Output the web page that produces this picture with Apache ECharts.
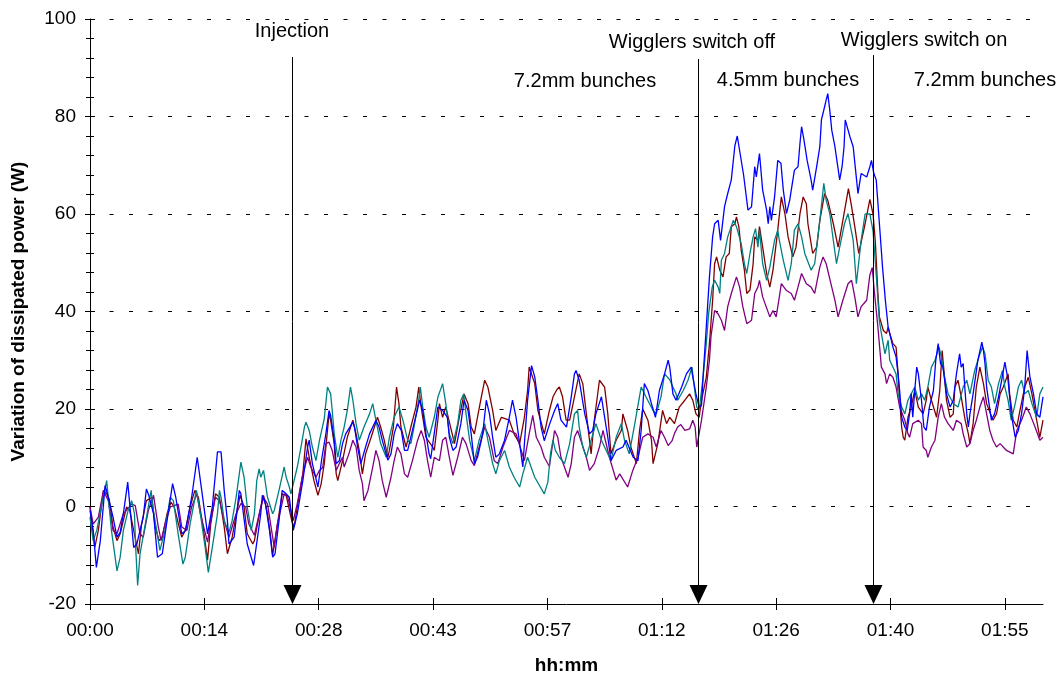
<!DOCTYPE html>
<html>
<head>
<meta charset="utf-8">
<script src="https://cdn.jsdelivr.net/npm/echarts@6/dist/echarts.min.js"></script>
<style>
  html, body { margin: 0; padding: 0; background: #fff; }
  #chart { width: 1061px; height: 682px; }
</style>
</head>
<body>
<div id="chart"></div>
<script>
// time in minutes, value in W
const blue = [[0,-0.8],[0.4,-4.9],[0.8,-12.5],[1.3,-7],[1.9,4.3],[2.3,1.9],[2.9,-2.2],[3.4,-6.3],[3.8,-5.3],[4.2,-1.5],[4.75,5],[5.0,4.7],[5.5,-8.4],[5.9,-7.7],[6.3,-4.9],[6.7,-2.2],[7.1,3.6],[7.4,2.3],[8.0,-1.5],[8.5,-10.4],[9.1,-9.7],[9.7,-2.9],[10.4,4.7],[10.8,1.9],[11.55,-5.6],[12.05,-4.9],[12.8,1.9],[13.5,10.1],[13.9,5.3],[14.3,0.5],[14.8,-5.6],[15.4,-0.1],[16.05,11.2],[16.5,11.2],[16.9,3.3],[17.3,-2.9],[17.5,-7.7],[18.15,-6.3],[18.8,3.3],[19.0,2.6],[19.8,-7.7],[20.6,-12.1],[21.1,-6.3],[21.5,-1.5],[21.7,2.3],[22.1,0.5],[22.6,-4.9],[23.0,-10.4],[23.3,-9.7],[23.8,-2.9],[24.2,3.3],[24.7,2.6],[25.1,1.9],[25.5,-3.6],[25.6,-4.9],[26.1,-1.5],[26.8,5.3],[27.4,12.2],[27.6,13.6],[28.0,8.8],[28.7,4],[29.2,10],[29.7,14.9],[30.1,19.7],[30.3,18.7],[30.75,13.6],[31.0,8.8],[31.4,9.4],[31.8,12.9],[32.2,14.9],[33.1,17.3],[33.3,16.3],[33.7,12.2],[34.1,8.8],[34.7,12.2],[35.2,14.9],[36.0,17.7],[36.4,16.3],[36.8,13.6],[37.5,9.5],[37.9,10.8],[38.3,14.9],[38.7,17],[39.2,15.6],[39.6,11.5],[40.0,11.5],[40.6,15.6],[41.25,20],[41.5,21.8],[41.9,19.7],[42.3,14.9],[42.7,10.8],[42.9,9.8],[43.4,15.6],[43.8,20.4],[44.4,19.7],[45.0,18.3],[45.25,14.2],[45.7,11.5],[46.1,12.2],[46.7,17],[47.1,21.8],[47.6,19.7],[48.0,14.9],[48.4,8.8],[48.8,10.1],[49.45,14.9],[49.9,21.8],[50.3,19],[50.7,14.2],[51.1,10.1],[51.55,10.8],[52.2,13.6],[52.8,18.3],[53.2,21.8],[53.65,18.3],[54.1,12.9],[54.5,8.1],[54.7,12.9],[55.1,21.8],[55.6,28.9],[56.0,26.6],[56.4,21.8],[56.8,16.3],[57.2,13.5],[57.85,16.8],[58.5,19.7],[58.9,21.1],[59.3,17.7],[60.0,16.3],[60.6,22.5],[61.0,27.2],[61.2,27.9],[61.6,25.9],[62.3,19],[62.9,14.9],[63.3,15.6],[63.7,19],[64.4,22.5],[64.6,20.4],[65.2,14.2],[65.6,9.4],[66.25,11.5],[67.1,12.2],[67.5,13.6],[68.4,10.1],[69.0,9.4],[69.4,15.6],[69.8,25.2],[70.25,23.8],[70.7,21.1],[71.2,18.3],[71.7,23.8],[72.35,27.2],[72.8,30],[73.0,28.6],[73.4,23.1],[73.8,21.8],[74.5,24.5],[75.1,27.2],[75.7,28.6],[75.9,26.6],[76.3,23.1],[76.7,20.4],[77.0,20.7],[77.2,26.6],[77.6,36.8],[78.0,47.1],[78.4,55.3],[78.65,58],[79.1,58.7],[79.4,54.6],[79.9,61.5],[80.3,64.2],[80.75,67],[81.2,74],[81.5,76],[81.9,72],[82.3,68],[82.85,60.8],[83.3,61.5],[83.7,69.7],[83.9,67.6],[84.3,72.4],[84.7,64.9],[85.2,60.8],[85.4,58],[85.6,61.5],[85.8,58.7],[86.2,63.5],[86.6,71],[87.0,70.4],[87.3,64.9],[87.7,60.1],[88.1,62.8],[88.7,69],[89.15,69.7],[89.4,74.5],[89.6,77.9],[89.9,75.2],[90.3,71],[90.8,67],[91.0,64.9],[91.5,69.7],[91.9,73.8],[92.1,79.3],[92.5,82],[92.7,83.4],[92.9,84.7],[93.15,81.3],[93.4,77.2],[93.8,73.8],[94.1,70.4],[94.4,67],[94.7,69.7],[94.95,73.8],[95.1,79.3],[95.7,75.8],[96.1,73.8],[96.4,69],[96.7,64.2],[97.1,68.3],[97.8,67.6],[98.2,69.7],[98.4,71],[98.7,68.3],[99.0,67],[99.4,58],[99.8,49],[100.15,42.3],[100.5,36.8],[100.7,35.5],[101.1,32.7],[101.5,30.7],[101.75,27.2],[101.95,23.8],[102.2,18.3],[102.6,16.3],[102.9,15.6],[103.2,19],[103.4,23.1],[103.6,18.3],[103.85,23.8],[104.1,28.6],[104.3,27.2],[104.7,21.8],[105.0,16.3],[105.3,15.6],[105.7,20.4],[106.2,23.8],[106.5,30],[106.8,33.4],[107.1,29.3],[107.4,28.6],[107.85,23.1],[108.3,20.4],[108.7,21.8],[109.1,27.2],[109.5,31.3],[109.7,28.6],[109.95,29.3],[110.15,24.5],[110.4,19],[110.6,16.3],[110.8,19],[111.2,23.1],[111.8,30],[112.3,33.7],[112.5,32],[112.7,29.3],[112.9,24.5],[113.5,17.7],[113.9,19],[114.4,22.5],[114.8,25.9],[115.2,29.6],[115.6,25.9],[116.0,19],[116.5,14.2],[116.9,15.6],[117.3,19],[117.7,24.5],[118.0,32],[118.35,26.6],[118.8,23.1],[119.2,19],[119.6,18.3],[120.0,22.5]];

const darkRed = [[0,-0.1],[0.6,-8.4],[1.05,-4.9],[1.7,3.3],[2.1,2.6],[2.4,1.6],[2.9,-4.2],[3.4,-7],[3.8,-5.6],[4.6,-0.1],[5.0,-0.8],[5.5,-4.9],[6.1,-9.7],[6.5,-3.6],[7.1,1.2],[7.8,1.9],[8.2,-4.2],[8.7,-7],[9.1,-6.3],[9.7,-1.5],[10.2,0.9],[10.6,-0.1],[11.55,-6.3],[12.0,-4.9],[12.6,-0.1],[13.2,3.3],[13.65,1.9],[14.3,-4.9],[14.8,-11],[15.2,-3.6],[15.8,2.6],[16.3,1.9],[16.9,-4.2],[17.3,-9.7],[17.9,-6.3],[18.6,-0.1],[18.9,2.3],[19.4,-0.1],[19.8,-5.6],[20.5,-7.7],[20.7,-7],[21.5,-0.1],[21.85,2.3],[22.35,-1.5],[22.7,-5.6],[23.0,-10],[23.6,-3.6],[24.2,2.6],[24.7,2.3],[25.4,-2.9],[25.7,-4.2],[26.1,-0.1],[26.8,6.7],[27.2,13.9],[27.6,10.1],[28.2,5.3],[28.7,2.3],[29.1,4.6],[29.5,8.8],[30.1,19],[30.3,17.7],[30.75,12.9],[31.0,6.7],[31.2,5.3],[31.8,9.4],[32.4,14.2],[33.1,17.7],[33.5,14.9],[33.9,11.5],[34.3,6.7],[34.7,10.8],[35.4,14.2],[36.2,18.3],[36.6,16.3],[37.05,13.6],[37.5,10.1],[37.7,11.5],[38.2,16.3],[38.6,24.5],[38.9,21.1],[39.15,16.3],[39.8,12.2],[40.4,16.3],[41.05,20.4],[41.4,24.5],[41.7,20.4],[42.3,14.2],[43.15,12.2],[43.35,11.5],[43.8,17.7],[44.0,21.1],[44.4,18.3],[44.8,20.4],[45.5,15.6],[45.9,12.9],[46.5,18.3],[47.1,23.1],[47.6,21.1],[48.0,16.3],[48.4,14.9],[49.2,21.8],[49.7,25.9],[50.1,24.5],[50.7,19.7],[51.1,15.6],[51.8,18.3],[52.8,17.7],[53.4,14.9],[54.1,12.9],[54.7,18.3],[55.1,23.8],[55.3,28.6],[56.0,25.2],[56.4,19.7],[57.2,14.9],[57.85,19.7],[58.3,22.5],[58.8,24],[59.1,24.5],[59.5,22.5],[59.95,17.7],[60.4,17.7],[61.0,22.5],[61.6,27.2],[62.05,25.2],[62.5,19],[63.1,10.8],[63.5,17.7],[64.15,25.9],[64.8,24.5],[65.2,19],[65.6,10.8],[66.25,13.6],[66.9,15.6],[67.1,19],[67.7,15.6],[68.1,12.2],[68.8,8.8],[69.2,15.6],[69.6,20],[70.25,17.7],[70.7,13.6],[70.9,8.8],[71.5,12.9],[72.1,19.7],[72.6,17],[73.0,18.3],[73.6,17],[74.2,20.4],[74.9,21.8],[75.5,23.1],[75.9,21.8],[76.3,19],[76.7,18.3],[77.0,21.8],[77.6,26.5],[78.0,33.4],[78.4,42.3],[78.65,49.8],[78.9,51.2],[79.3,48.5],[79.7,47.1],[80.1,51.2],[80.5,51.9],[80.75,57.4],[81.2,58],[81.4,59.4],[81.7,57.4],[82.0,52.6],[82.4,48.5],[82.7,43.7],[83.1,44.4],[83.5,49.8],[83.7,55.3],[84.1,54.6],[84.3,57.4],[84.7,53.2],[85.2,47.8],[85.6,45],[86.0,48.5],[86.6,56.7],[87.05,63.5],[87.5,60.1],[87.9,55.3],[88.5,51.2],[88.9,53.2],[89.4,60.1],[89.8,63.5],[90.2,62.1],[90.4,58],[91.0,51.9],[91.5,53.2],[91.9,58.7],[92.5,64.2],[92.9,62.8],[93.6,58],[94.2,53.2],[94.8,58.7],[95.5,65.2],[95.9,61.5],[96.3,57.4],[96.8,51.9],[97.6,58],[98.2,63],[98.6,60],[98.9,54],[99.2,44],[99.4,38.9],[99.9,36.1],[100.3,35.5],[100.5,36.8],[100.7,35.5],[101.1,33.4],[101.5,32.7],[101.75,27.2],[101.95,21.8],[102.2,16.3],[102.4,14.2],[102.6,13.6],[103.0,18.3],[103.4,20.4],[103.85,23.8],[104.3,20.4],[104.9,19],[105.3,21.8],[105.5,24.5],[105.95,21.8],[106.6,18.3],[107.0,23.8],[107.3,32],[107.6,26.5],[107.85,21.8],[108.3,18.3],[108.7,19],[108.9,24.5],[109.3,25.9],[109.7,22.5],[110.2,17.7],[110.6,14.9],[110.8,12.9],[111.2,17],[111.6,24.5],[112.05,28.6],[112.5,25.2],[112.9,21.1],[113.7,17.7],[114.15,19],[114.6,23.1],[115.0,24.5],[115.6,27.2],[115.8,23.1],[116.25,17.7],[116.7,16.3],[117.1,19.7],[117.7,24.5],[118.15,26.5],[118.6,23.1],[119.2,17.7],[119.6,14.2],[120.0,17.7]];

const teal = [[0,-2.2],[0.4,-7],[0.85,-4.9],[1.5,0.5],[2.1,5.3],[2.7,-4.9],[3.4,-13.2],[3.8,-10.4],[4.2,-4.9],[4.8,-0.8],[5.25,1.2],[5.6,-1.5],[5.75,-8.4],[6.0,-16.2],[6.3,-9.7],[6.9,-4.2],[7.7,3.3],[7.9,-0.1],[8.4,-4.9],[8.8,-9],[9.45,-4.9],[10.1,1.9],[10.5,1.2],[11.1,-5.6],[11.7,-11.8],[12.0,-10.4],[12.6,-3.6],[13.4,3.3],[13.9,-1.5],[14.5,-8.4],[14.9,-13.5],[15.4,-8.4],[16.05,-1.5],[16.3,3.3],[16.5,1.9],[16.9,-2.9],[17.5,-5.3],[17.9,-2.9],[18.4,1.9],[18.8,6.7],[19.0,9.1],[19.4,6],[19.8,-0.1],[20.3,-4.9],[20.7,-1.5],[21.0,5.3],[21.3,7.7],[21.5,6],[21.85,7.4],[22.35,1.9],[23.0,-1.5],[23.2,-0.8],[23.8,3.3],[24.45,8.1],[24.7,6],[25.1,4],[25.3,2.6],[26.1,8.1],[26.6,12.5],[27.0,16.3],[27.2,17.3],[27.6,15.6],[28.0,12.2],[28.45,9.4],[28.9,13.6],[29.5,18],[29.9,24.5],[30.3,23.1],[30.5,19.7],[30.75,14.9],[31.0,12.2],[31.2,10.1],[31.6,13.6],[32.0,16.3],[32.4,19.7],[32.8,24.5],[33.1,21.8],[33.5,17],[33.9,13.6],[34.5,16.3],[35.2,19],[35.6,21.1],[36.0,17.7],[36.6,12.9],[37.3,10.1],[37.7,14.2],[38.3,18.3],[38.9,20.4],[39.4,17.7],[40.0,13.6],[40.4,12.9],[40.8,16.3],[41.4,22],[41.6,24.5],[41.9,20.4],[42.3,16.3],[42.7,14.2],[43.35,18.3],[43.8,22.4],[44.4,25.2],[44.8,21.1],[45.25,14.9],[45.7,12.9],[46.3,17],[46.7,21.8],[47.05,23.1],[47.35,19],[47.8,13.6],[48.4,9.4],[49.0,13.6],[49.7,17],[50.1,13.6],[50.7,8.8],[51.1,6.7],[51.55,9.4],[52.2,11.5],[52.8,8.1],[53.4,6],[54.1,4],[54.5,6.7],[55.1,10.1],[56.0,6],[57.2,2.6],[57.65,5],[58.0,11],[58.3,13.6],[58.6,11.5],[59.1,10.1],[59.75,8.8],[60.4,12.9],[61.0,19],[61.4,19.7],[61.6,16.3],[62.05,12.2],[62.5,10.1],[63.1,13.6],[63.7,17],[64.4,13.6],[65.6,9.4],[66.25,14.2],[66.9,17],[67.3,13.6],[67.9,10.8],[68.6,17],[69.4,24.5],[70.0,22.5],[70.9,19.7],[71.3,19],[71.9,22.5],[72.35,27.2],[73.0,26],[73.4,24.5],[73.8,23.1],[74.0,21.8],[74.7,23.8],[75.3,25.9],[75.8,28.6],[76.1,24.5],[76.4,20.4],[76.7,19.7],[77.2,26.5],[77.6,33.4],[77.9,39.6],[78.35,45],[78.65,46.4],[79.1,45],[79.3,43.7],[79.5,50.5],[79.9,51.9],[80.3,55.3],[81.0,58.7],[81.4,57.4],[82.0,53.9],[82.4,49.8],[82.7,47.8],[83.1,51.9],[83.5,55.3],[83.8,57],[84.1,53.2],[84.3,56.7],[84.7,49.8],[85.2,46.4],[85.6,49.1],[86.2,54.6],[86.6,56.7],[86.8,54.6],[87.3,50.5],[87.9,46.4],[88.3,49.8],[88.7,56.7],[89.15,58],[89.6,55.3],[90.0,51.9],[90.8,48.5],[91.25,49.8],[91.9,58.7],[92.4,66.3],[92.7,62.8],[93.15,60.1],[93.6,54.6],[94.0,49.8],[94.4,53.2],[95.0,58],[95.45,60.1],[96.1,54.6],[96.5,45.7],[97.1,54.6],[97.6,60],[98.2,60],[98.6,56.5],[99.0,47.5],[99.4,38],[99.65,35.5],[100.1,31.3],[100.5,34.1],[100.7,30],[101.1,28.6],[101.5,27.2],[101.75,23.1],[102.2,20.4],[102.6,19],[103.0,21.8],[103.4,23.1],[103.85,24.5],[104.3,21.8],[104.7,23.1],[105.1,21.8],[105.5,24.5],[105.95,28.6],[106.4,30],[106.9,32.7],[107.2,30.7],[107.6,26.6],[108.05,23.1],[108.5,21.8],[108.7,21.1],[109.3,20.4],[109.95,24.5],[110.4,25.9],[110.8,23.1],[111.4,27.9],[112.05,31.3],[112.4,32.7],[112.7,31.3],[113.1,25.9],[113.5,24.5],[113.9,21.1],[114.4,25.2],[114.9,27.9],[115.2,24.5],[115.6,21.8],[116.0,17.7],[116.5,21.1],[116.9,24.5],[117.3,25.9],[117.7,23.1],[118.15,23.8],[118.6,21.1],[119.2,18.3],[119.6,23.1],[120.0,24.5]];

const purple = [[0,-0.1],[0.4,-3.6],[1.05,-2.2],[1.7,3.3],[2.3,1.2],[2.9,-4.9],[3.4,-5.6],[4.2,-1.5],[5.25,0.5],[5.7,0.2],[6.3,-5.6],[6.7,-6.3],[7.35,-0.8],[8.0,2.3],[8.2,1.9],[8.6,-4.2],[8.95,-7],[9.45,-3.6],[10.1,-0.1],[11.1,0.5],[11.55,-4.2],[12.2,-4.9],[12.8,-0.1],[13.45,2.6],[13.9,-1.5],[14.8,-7.3],[15.2,-2.9],[15.8,1.9],[16.3,1.2],[16.9,-2.9],[17.5,-6.3],[18.4,-1.5],[19.0,0.6],[19.6,-0.1],[20.0,-3.6],[20.7,-5.9],[21.3,-1.5],[21.85,1.9],[22.35,0.5],[22.8,-4.2],[23.2,-8.4],[23.6,-3.6],[24.45,2.6],[24.9,1.9],[25.4,-1.5],[25.6,-2.9],[26.1,0.6],[26.8,6.7],[27.4,10.1],[27.8,8.1],[28.45,6],[28.9,7.4],[29.3,8],[29.7,12.9],[30.1,13.2],[30.5,11.5],[30.75,9.4],[31.0,7.4],[31.4,8.8],[31.8,10.1],[32.0,8.1],[32.6,10.8],[33.1,13.6],[33.5,12.2],[33.9,7.4],[34.3,4.7],[34.5,1.2],[35.0,3.3],[35.6,8.1],[36.0,11.5],[36.4,9.4],[36.8,5.3],[37.3,1.9],[37.9,6],[38.3,9.4],[38.7,12.2],[39.15,10.8],[39.6,6.7],[40.0,6],[40.6,9.4],[41.25,13.6],[41.7,15.6],[42.1,13.6],[42.5,9.4],[42.9,6],[43.35,10.1],[44.0,9.4],[44.4,13.6],[44.8,14.2],[45.25,10.1],[45.7,6.4],[46.3,10.1],[46.9,14.2],[47.35,12.9],[48.0,9.4],[48.4,8.4],[49.0,12.2],[49.7,16.3],[50.3,14.2],[50.9,9.4],[51.35,8.8],[52.0,12.2],[52.8,15.6],[53.65,14.9],[54.3,11.5],[54.7,9.4],[55.3,14.9],[55.75,18.7],[56.2,14.2],[56.8,12.2],[57.2,10.1],[57.85,8.2],[58.5,15.6],[58.9,14.2],[59.3,10.1],[60.2,6],[60.6,8.8],[61.0,14.2],[61.4,15.6],[61.8,13.6],[62.5,10.1],[62.9,7.4],[63.5,8.8],[64.15,12.2],[64.6,15.6],[64.8,14.2],[65.4,10.1],[66.25,5.4],[66.7,6.7],[67.7,4],[68.35,7.4],[69.0,10.1],[69.6,14.2],[70.25,14.9],[70.9,14.2],[71.3,12.2],[71.9,15.6],[72.4,14],[72.8,12.5],[73.3,13.5],[73.6,15],[74.0,16.3],[74.4,16.8],[74.9,15.6],[75.5,15.9],[75.9,17.7],[76.2,16.3],[76.4,12.2],[77.0,17.7],[77.6,24.5],[78.0,30],[78.2,35],[78.65,40.2],[79.1,39.5],[79.5,38.2],[79.9,36.1],[80.3,41],[80.75,43.7],[81.4,47.1],[81.8,45],[82.2,41],[82.7,37.5],[83.3,38.2],[83.7,43.7],[84.1,45],[84.3,46.4],[84.7,43],[85.6,38.9],[86.0,40.2],[86.4,38.9],[86.8,43],[87.05,45.7],[87.7,44.3],[88.3,43.7],[88.7,42.3],[89.15,45],[89.6,47.8],[90.2,45.7],[90.8,45],[91.25,43.7],[91.9,49.1],[92.3,51.2],[92.7,49.8],[93.4,45],[93.8,42.3],[94.2,38.9],[94.8,42.3],[95.45,45.7],[95.9,46.4],[96.3,43],[96.7,38.9],[97.1,41],[97.8,42.3],[98.2,47.5],[98.5,49],[98.8,43.5],[99.2,37],[99.65,28.6],[100.1,27.2],[100.3,25.2],[100.7,27.2],[101.1,26.5],[101.5,24.5],[101.95,20.4],[102.6,17.7],[103.0,14.9],[103.2,14.2],[103.6,17],[104.3,17.7],[104.7,17],[104.9,12.2],[105.3,11.5],[105.5,10.1],[105.95,12.2],[106.4,13.6],[106.8,18.3],[107.2,21.1],[107.6,18.3],[108.05,17],[108.7,15.6],[109.1,17.7],[109.7,17],[109.95,14.9],[110.4,12.2],[110.8,12.9],[111.2,15.6],[111.6,17.7],[112.05,20.4],[112.5,22.5],[112.9,19],[113.3,15.6],[113.7,13.6],[114.15,12.2],[114.6,12.9],[115.4,11.5],[116.25,10.8],[116.7,15.6],[117.3,17.7],[117.9,20.4],[118.35,19],[119.0,16.3],[119.6,13.6],[120.0,14.2]];

// axis ticks (minutes) and their labels
const xTicks = [0, 14.4, 28.8, 43.2, 57.6, 72, 86.4, 100.8, 115.2];
const xTickLabels = ['00:00', '00:14', '00:28', '00:43', '00:57', '01:12', '01:26', '01:40', '01:55'];

// event arrows: time (min) and the value where the arrow line starts
const eventTimes = [25.4, 76.6, 98.6];
const eventTops = [92.2, 91.8, 92.6];

const FONT = "'Liberation Sans', Arial, Helvetica, sans-serif";

const chart = echarts.init(document.getElementById('chart'), null, { renderer: 'canvas' });

const lineSeries = (name, data, color) => ({
  name,
  type: 'line',
  data,
  showSymbol: false,
  symbol: 'none',
  silent: true,
  lineStyle: { color, width: 1.3 }
});

const labelFont = { fontFamily: FONT, fontSize: 19, color: '#000' };
const nameFont = { fontFamily: FONT, fontSize: 19, fontWeight: 'bold', color: '#000' };

// second copy of each axis only draws the inner half of the ticks,
// so ticks cross the axis line like in the original
const xBase = { type: 'value', min: 0, max: 120 };
const yBase = { type: 'value', min: -20, max: 100, interval: 20 };

const option = {
  animation: false,
  backgroundColor: '#fff',
  textStyle: { fontFamily: FONT },
  grid: { left: 90, right: 18, top: 19, bottom: 78, outerBoundsMode: 'none' },
  xAxis: [
    {
      ...xBase,
      name: 'hh:mm',
      nameLocation: 'middle',
      nameGap: 52,
      nameTextStyle: nameFont,
      axisLine: { onZero: false, lineStyle: { color: '#000', width: 1 } },
      axisTick: { customValues: xTicks, length: 6, lineStyle: { color: '#000' } },
      axisLabel: {
        ...labelFont,
        customValues: xTicks,
        formatter: v => xTickLabels[xTicks.findIndex(t => Math.abs(t - v) < 1e-6)],
        margin: 17
      },
      splitLine: { show: false }
    },
    {
      ...xBase,
      position: 'bottom',
      axisLine: { show: false, onZero: false },
      axisTick: { customValues: xTicks, inside: true, length: 6, lineStyle: { color: '#000' } },
      axisLabel: { show: false },
      splitLine: { show: false }
    }
  ],
  yAxis: [
    {
      ...yBase,
      name: 'Variation of dissipated power (W)',
      nameLocation: 'middle',
      nameGap: 62,
      nameTextStyle: nameFont,
      axisLine: { show: true, lineStyle: { color: '#000', width: 1 } },
      axisTick: { show: true, length: 5, lineStyle: { color: '#000' } },
      minorTick: { show: true, splitNumber: 5, length: 4, lineStyle: { color: '#000' } },
      axisLabel: { ...labelFont, margin: 14 },
      splitLine: { show: true, lineStyle: { color: '#000', width: 1, type: [4, 15.5] } }
    },
    {
      ...yBase,
      position: 'left',
      axisLine: { show: false },
      axisTick: { show: true, inside: true, length: 5, lineStyle: { color: '#000' } },
      minorTick: { show: true, splitNumber: 5, length: 4, lineStyle: { color: '#000' } },
      axisLabel: { show: false },
      splitLine: { show: false }
    }
  ],
  series: [
    lineSeries('Series 2', darkRed, '#800000'),
    lineSeries('Series 4', purple, '#800080'),
    lineSeries('Series 3', teal, '#008080'),
    lineSeries('Series 1', blue, '#0000ff'),
    {
      type: 'custom',
      silent: true,
      clip: false,
      z: 10,
      data: eventTimes.map((t, i) => [t, eventTops[i]]),
      renderItem: (params, api) => {
        const top = api.coord([api.value(0), api.value(1)]);
        const bottom = api.coord([api.value(0), -20]);
        const x = Math.round(top[0]) + 0.5;
        return {
          type: 'group',
          children: [
            { type: 'line', shape: { x1: x, y1: top[1], x2: x, y2: bottom[1] - 18 },
              style: { stroke: '#000', lineWidth: 1 } },
            { type: 'polygon', shape: { points: [[x - 9, bottom[1] - 19], [x + 9, bottom[1] - 19], [x, bottom[1]]] },
              style: { fill: '#000' } }
          ]
        };
      }
    }
  ],
  graphic: [
    { type: 'text', x: 292, y: 31, style: { text: 'Injection', font: '20px ' + FONT, fill: '#000', align: 'center', verticalAlign: 'middle' } },
    { type: 'text', x: 692, y: 42, style: { text: 'Wigglers switch off', font: '20px ' + FONT, fill: '#000', align: 'center', verticalAlign: 'middle' } },
    { type: 'text', x: 924, y: 40, style: { text: 'Wigglers switch on', font: '20px ' + FONT, fill: '#000', align: 'center', verticalAlign: 'middle' } },
    { type: 'text', x: 585, y: 81, style: { text: '7.2mm bunches', font: '20px ' + FONT, fill: '#000', align: 'center', verticalAlign: 'middle' } },
    { type: 'text', x: 788, y: 80, style: { text: '4.5mm bunches', font: '20px ' + FONT, fill: '#000', align: 'center', verticalAlign: 'middle' } },
    { type: 'text', x: 985, y: 80, style: { text: '7.2mm bunches', font: '20px ' + FONT, fill: '#000', align: 'center', verticalAlign: 'middle' } }
  ]
};

chart.setOption(option);
window.addEventListener('resize', () => chart.resize());
</script>
</body>
</html>
